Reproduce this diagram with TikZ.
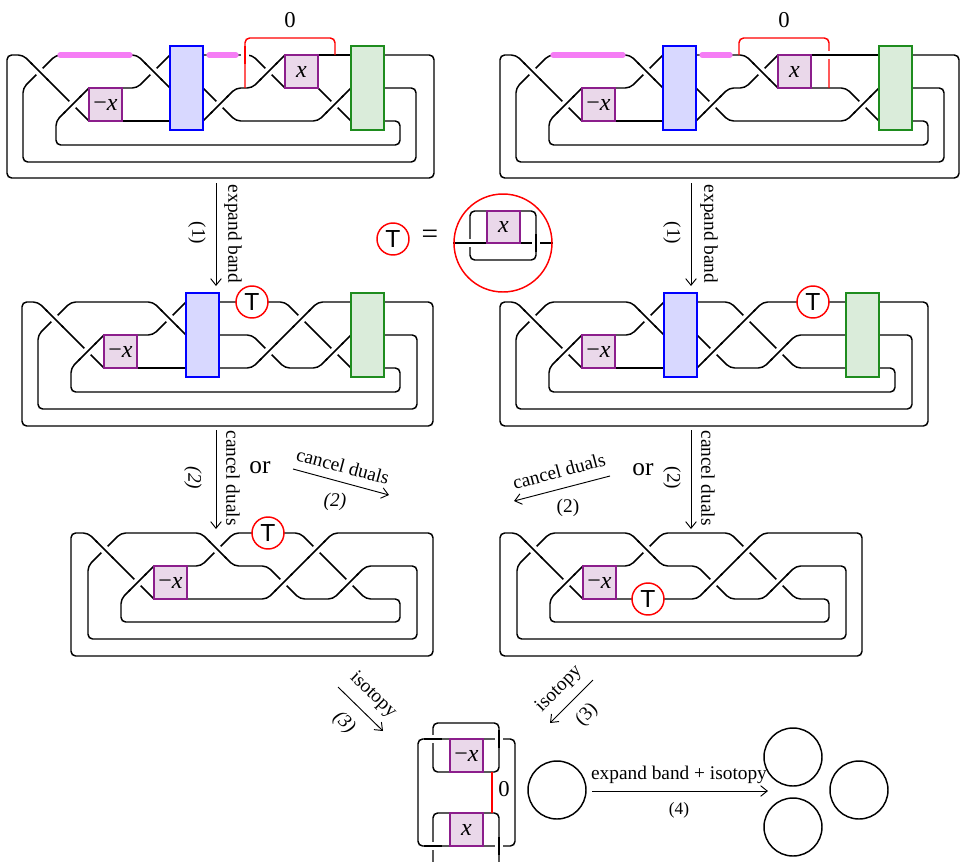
\documentclass[tikz,border=0pt]{standalone}
\usepackage{fontspec}
\setmainfont{Liberation Serif}
\newfontfamily\tfont{Liberation Sans}
\usetikzlibrary{arrows.meta}
\definecolor{bluefill}{RGB}{216,216,255}
\definecolor{greenfill}{RGB}{218,236,218}
\definecolor{greenline}{RGB}{30,140,30}
\definecolor{purpfill}{RGB}{234,216,234}
\definecolor{purpline}{RGB}{140,30,140}
\definecolor{pinkband}{RGB}{245,125,245}
\newcommand\xcr[3]{%
  \draw[halo] (#1,#2) ++(-7,{-7*(#3)}) -- ++(14,{14*(#3)});
  \draw[str] (#1,#2) ++(-9,{-9*(#3)}) -- ++(18,{18*(#3)});}
\newcommand\hcr[3][black]{%
  \draw[halo] ({#2-7},#3) -- ({#2+7},#3);
  \draw[str,#1] ({#2-9},#3) -- ({#2+9},#3);}
\newcommand\vcr[3][black]{%
  \draw[halo] (#2,{#3-7}) -- (#2,{#3+7});
  \draw[str,#1] (#2,{#3-9}) -- (#2,{#3+9});}
\tikzset{
  str/.style={line width=1.1pt, rounded corners=3.5pt},
  halo/.style={white, line width=6.5pt},
  band/.style={red, line width=1.1pt, rounded corners=3.5pt},
  pinkhl/.style={pinkband, line width=4pt, line cap=round},
  xbox/.style={draw=purpline, fill=purpfill, line width=1.1pt, minimum width=24.75pt, minimum height=24.75pt, inner sep=0pt, font=\fontsize{18}{20}\selectfont\itshape},
  bbox/.style={draw=blue, fill=bluefill, line width=1.1pt, minimum width=24.75pt, minimum height=63pt, inner sep=0pt},
  gbox/.style={draw=greenline, fill=greenfill, line width=1.1pt, minimum width=24.75pt, minimum height=63pt, inner sep=0pt},
  tnode/.style={circle, draw=red, fill=white, line width=1.1pt, minimum size=24pt, inner sep=0pt, font=\tfont\fontsize{18.5}{20}\selectfont},
  ring/.style={circle, draw, line width=1.1pt, minimum size=43.5pt, inner sep=0pt},
  arr/.style={-{Straight Barb[length=5pt,width=8pt]}, line width=0.7pt},
  lab/.style={inner sep=0pt, font=\fontsize{14.5}{17}\selectfont},
  labi/.style={inner sep=0pt, font=\fontsize{14.5}{17}\selectfont\itshape},
  zero/.style={inner sep=0pt, font=\fontsize{17}{19}\selectfont},
  orl/.style={inner sep=0pt, font=\fontsize{19}{21}\selectfont},
}
\begin{document}
\begin{tikzpicture}[x=0.75pt,y=-0.75pt]
\useasboundingbox (0,0) rectangle (961,861);

% ================= top left =================
\draw[str] (384,55) -- (434,55) -- (434,178) -- (7,178) -- (7,55) -- (23,55) -- (89,121);
\draw[str] (384,88) -- (416,88) -- (416,162) -- (23,162) -- (23,88) -- (56,55) -- (137,55) -- (170,88);
\draw[str] (384,121) -- (400,121) -- (400,145) -- (56,145) -- (56,121) -- (89,88);
\draw[str] (122,88) -- (137,88) -- (170,55);
\draw[str] (122,121) -- (170,121);
\draw[str] (203,55) -- (252,55) -- (285,88);
\draw[str] (203,88) -- (236,121) -- (318,121) -- (351,88);
\draw[str] (203,121) -- (236,88) -- (252,88) -- (285,55);
\draw[str] (318,55) -- (351,55);
\draw[str] (318,88) -- (351,121);
\draw[band] (245,88) -- (245,38) -- (335,38) -- (335,55);
\xcr{39.5}{71.5}{1} \xcr{72.5}{104.5}{-1} \xcr{153.5}{71.5}{1}
\xcr{219.5}{104.5}{-1} \xcr{268.5}{71.5}{-1} \xcr{334.5}{104.5}{-1}
\vcr[red]{245}{55}
\draw[pinkhl] (60,55) -- (130,55);
\draw[pinkhl] (209,55) -- (236,55);
\node[xbox] (tlm) at (105.5,104.5) {{\upshape −}x};
\node[bbox] (tlb) at (186.5,88) {};
\node[xbox] (tlx) at (301.5,71.5) {x};
\node[gbox] (tlg) at (367.5,88) {};
\node[zero] (tl0) at (290,20) {0};

% ================= top right =================
\draw[str] (912,55) -- (959,55) -- (959,178) -- (500,178) -- (500,55) -- (516,55) -- (582,121);
\draw[str] (912,88) -- (944,88) -- (944,162) -- (516,162) -- (516,88) -- (549,55) -- (630,55) -- (663,88);
\draw[str] (912,121) -- (928,121) -- (928,145) -- (549,145) -- (549,121) -- (582,88);
\draw[str] (615,88) -- (630,88) -- (663,55);
\draw[str] (615,121) -- (663,121);
\draw[str] (696,55) -- (745,55) -- (778,88);
\draw[str] (696,88) -- (729,121) -- (846,121) -- (879,88);
\draw[str] (696,121) -- (729,88) -- (745,88) -- (778,55);
\draw[str] (811,55) -- (879,55);
\draw[str] (811,88) -- (846,88) -- (879,121);
\draw[band] (739,55) -- (739,38) -- (829,38) -- (829,88);
\xcr{532.5}{71.5}{1} \xcr{565.5}{104.5}{-1} \xcr{646.5}{71.5}{1}
\xcr{712.5}{104.5}{-1} \xcr{761.5}{71.5}{1} \xcr{862.5}{104.5}{-1}
\hcr{829}{55}
\draw[pinkhl] (553,55) -- (623,55);
\draw[pinkhl] (702,55) -- (730,55);
\node[xbox] (trm) at (598.5,104.5) {{\upshape −}x};
\node[bbox] (trb) at (679.5,88) {};
\node[xbox] (trx) at (794.5,71.5) {x};
\node[gbox] (trg) at (895.5,88) {};
\node[zero] (tr0) at (784,20) {0};

% ================= middle left =================
\draw[str] (384,302) -- (433,302) -- (433,426) -- (22,426) -- (22,302) -- (38,302) -- (104,368);
\draw[str] (384,335) -- (417,335) -- (417,409) -- (38,409) -- (38,335) -- (71,302) -- (153,302) -- (186,335);
\draw[str] (384,368) -- (400,368) -- (400,392) -- (71,392) -- (71,368) -- (104,335);
\draw[str] (137,335) -- (153,335) -- (186,302);
\draw[str] (137,368) -- (186,368);
\draw[str] (219,302) -- (285,302) -- (351,368);
\draw[str] (219,335) -- (252,335) -- (285,368) -- (318,368) -- (351,335);
\draw[str] (219,368) -- (252,368) -- (318,302) -- (351,302);
\xcr{54.5}{318.5}{1} \xcr{87.5}{351.5}{-1} \xcr{169.5}{318.5}{1}
\xcr{268.5}{351.5}{-1} \xcr{301.5}{318.5}{-1} \xcr{334.5}{351.5}{-1}
\node[xbox] (mlm) at (120.5,351.5) {{\upshape −}x};
\node[bbox] (mlb) at (202.5,335) {};
\node[gbox] (mlg) at (367.5,335) {};
\node[tnode] (mlt) at (252,302) {T};

% ================= middle right =================
\draw[str] (879,302) -- (928,302) -- (928,426) -- (500,426) -- (500,302) -- (516,302) -- (582,368);
\draw[str] (879,335) -- (912,335) -- (912,409) -- (516,409) -- (516,335) -- (549,302) -- (631,302) -- (664,335);
\draw[str] (879,368) -- (895,368) -- (895,392) -- (549,392) -- (549,368) -- (582,335);
\draw[str] (615,335) -- (631,335) -- (664,302);
\draw[str] (615,368) -- (664,368);
\draw[str] (697,302) -- (730,302) -- (796,368) -- (846,368);
\draw[str] (697,335) -- (730,368) -- (763,368) -- (796,335) -- (846,335);
\draw[str] (697,368) -- (763,302) -- (846,302);
\xcr{532.5}{318.5}{1} \xcr{565.5}{351.5}{-1} \xcr{647.5}{318.5}{1}
\xcr{713.5}{351.5}{-1} \xcr{746.5}{318.5}{-1} \xcr{779.5}{351.5}{-1}
\node[xbox] (mrm) at (598.5,351.5) {{\upshape −}x};
\node[bbox] (mrb) at (680.5,335) {};
\node[gbox] (mrg) at (862.5,335) {};
\node[tnode] (mrt) at (813,302) {T};

% ================= lower left =================
\draw[str] (187,599) -- (267,599) -- (333,533) -- (433,533) -- (433,656) -- (71,656) -- (71,533) -- (88,533) -- (154,599);
\draw[str] (250,566) -- (267,566) -- (300,599) -- (333,599) -- (366,566) -- (417,566) -- (417,639) -- (88,639) -- (88,566) -- (121,533) -- (201,533) -- (234,566) -- cycle;
\draw[str] (187,566) -- (201,566) -- (234,533) -- (300,533) -- (366,599) -- (400,599) -- (400,622) -- (121,622) -- (121,599) -- (154,566);
\xcr{104.5}{549.5}{1} \xcr{137.5}{582.5}{-1} \xcr{217.5}{549.5}{1}
\xcr{283.5}{582.5}{-1} \xcr{316.5}{549.5}{-1} \xcr{349.5}{582.5}{-1}
\node[xbox] (llm) at (170.5,582.5) {{\upshape −}x};
\node[tnode] (llt) at (268,533) {T};

% ================= lower right =================
\draw[str] (616,599) -- (697,599) -- (763,533) -- (862,533) -- (862,656) -- (500,656) -- (500,533) -- (517,533) -- (583,599);
\draw[str] (680,566) -- (697,566) -- (730,599) -- (763,599) -- (796,566) -- (846,566) -- (846,639) -- (517,639) -- (517,566) -- (550,533) -- (630,533) -- (663,566) -- cycle;
\draw[str] (616,566) -- (630,566) -- (663,533) -- (730,533) -- (796,599) -- (829,599) -- (829,622) -- (550,622) -- (550,599) -- (583,566);
\xcr{533.5}{549.5}{1} \xcr{566.5}{582.5}{-1} \xcr{646.5}{549.5}{1}
\xcr{713.5}{582.5}{-1} \xcr{746.5}{549.5}{-1} \xcr{779.5}{582.5}{-1}
\node[xbox] (lrm) at (599.5,582.5) {{\upshape −}x};
\node[tnode] (lrt) at (648,599) {T};

% ================= legend T =================
\node[tnode] (legt) at (393,239) {T};
\node[inner sep=0pt, font=\fontsize{22}{24}\selectfont] (legeq) at (430,237) {=};
\draw[str] (453,243) -- (487,243);
\draw[str] (520,243) -- (553,243);
\draw[str] (487,211) -- (470,211) -- (470,260) -- (536,260) -- (536,211) -- (520,211);
\hcr{470}{243}
\vcr{536}{243}
\node[xbox, minimum height=24pt] (legx) at (503.5,227) {x};
\node[circle, draw=red, line width=1.1pt, minimum size=73.5pt, inner sep=0pt] (legc) at (503,243) {};

% ================= final =================
\draw[str] (450,739) -- (418,739) -- (418,846) -- (450,846);
\draw[str] (483,739) -- (515,739) -- (515,846) -- (483,846);
\draw[str] (450,772) -- (433,772) -- (433,723) -- (499,723) -- (499,772) -- (483,772);
\draw[str] (450,813) -- (433,813) -- (433,870) -- (499,870) -- (499,813) -- (483,813);
\hcr{433}{739}
\vcr{499}{739}
\hcr{433}{846}
\vcr{499}{846}
\draw[band] (492,772) -- (492,813);
\node[xbox] (fm) at (466.5,755.5) {{\upshape −}x};
\node[xbox] (fx) at (466.5,829.5) {x};
\node[zero] (f0) at (504,789) {0};
\node[ring] (fc) at (557,790) {};
\node[ring] (r1) at (793,757) {};
\node[ring] (r2) at (793,827) {};
\node[ring] (r3) at (859,790) {};

% ================= arrows =================
\coordinate (a1s) at (216,183); \coordinate (a1e) at (216,286);
\draw[arr] (a1s) -- (a1e);
\node[lab, rotate=-90] (a1t) at (233,234) {expand band};
\node[lab, rotate=-90] (a1n) at (197,233) {(1)};
\coordinate (b1s) at (691,183); \coordinate (b1e) at (691,286);
\draw[arr] (b1s) -- (b1e);
\node[lab, rotate=-90] (b1t) at (709,234) {expand band};
\node[lab, rotate=-90] (b1n) at (672,233) {(1)};

\coordinate (a2s) at (216,430); \coordinate (a2e) at (216,529);
\draw[arr] (a2s) -- (a2e);
\node[lab, rotate=-90] (a2t) at (233,478) {cancel duals};
\node[labi, rotate=-90] (a2n) at (193,478) {(2)};
\node[orl] (or1) at (260,468) {or};
\coordinate (d1s) at (293,469); \coordinate (d1e) at (389,495);
\draw[arr] (d1s) -- (d1e);
\node[lab, rotate=-15] (d1t) at (343,466) {cancel duals};
\node[labi] (d1n) at (335,502) {(2)};

\coordinate (b2s) at (691,430); \coordinate (b2e) at (691,529);
\draw[arr] (b2s) -- (b2e);
\node[lab, rotate=-90] (b2t) at (708,478) {cancel duals};
\node[lab, rotate=-90] (b2n) at (672,478) {(2)};
\node[orl] (or2) at (643,470) {or};
\coordinate (d2s) at (610,476); \coordinate (d2e) at (514,501);
\draw[arr] (d2s) -- (d2e);
\node[lab, rotate=15] (d2t) at (559,471) {cancel duals};
\node[lab] (d2n) at (568,508) {(2)};

\coordinate (a3s) at (338,687); \coordinate (a3e) at (383,731);
\draw[arr] (a3s) -- (a3e);
\node[lab, rotate=-44] (a3t) at (373,695) {isotopy};
\node[labi, rotate=-44] (a3n) at (344,723) {(3)};
\coordinate (b3s) at (593,680); \coordinate (b3e) at (550,723);
\draw[arr] (b3s) -- (b3e);
\node[lab, rotate=45] (b3t) at (559,689) {isotopy};
\node[lab, rotate=45] (b3n) at (587,715) {(3)};

\coordinate (a4s) at (592,791); \coordinate (a4e) at (768,791);
\draw[arr] (a4s) -- (a4e);
\node[lab] (a4t) at (679,775) {expand band + isotopy};
\node[inner sep=0pt, font=\fontsize{13}{15}\selectfont] (a4n) at (679,810) {(4)};
\end{tikzpicture}
\end{document}
